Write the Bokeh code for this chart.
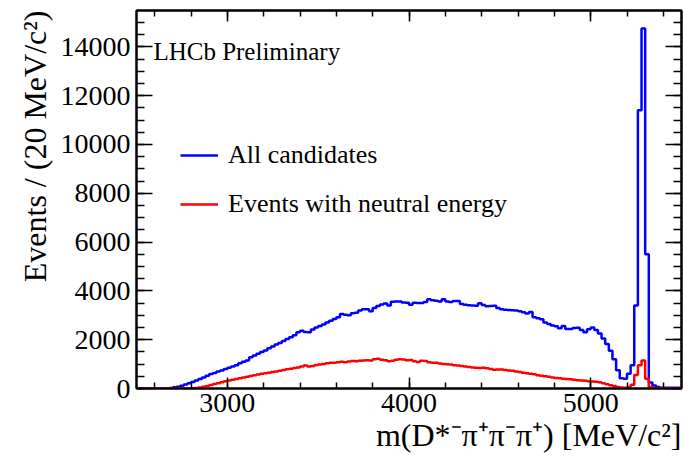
import numpy as np
from bokeh.plotting import figure
from bokeh.models import (Range1d, SingleIntervalTicker, LinearAxis, Legend, LegendItem, Label,
                          CustomJSTickFormatter, Title)
from bokeh.embed import file_html
from bokeh.resources import INLINE

# Histogram binning: 20 MeV bins from 2500 to 5500 MeV
bin_start = 2500
bin_width = 20

# Events per bin, "All candidates" (blue)
all_candidates = [
    0, 0, 0, 0, 0, 0, 0, 0, 0, 20,
    50, 70, 110, 160, 210, 270, 330, 390, 450, 520,
    590, 640, 700, 740, 800, 850, 900, 950, 1030, 1100,
    1150, 1280, 1350, 1420, 1500, 1560, 1650, 1720, 1800, 1860,
    1950, 2030, 2100, 2180, 2300, 2370, 2320, 2300, 2420, 2500,
    2560, 2620, 2700, 2780, 2850, 2920, 3050, 3020, 3000, 3080,
    3100, 3200, 3250, 3250, 3160, 3300, 3380, 3440, 3480, 3400,
    3550, 3560, 3560, 3520, 3510, 3430, 3510, 3500, 3500, 3540,
    3660, 3620, 3600, 3560, 3660, 3560, 3540, 3590, 3580, 3460,
    3430, 3410, 3400, 3390, 3490, 3420, 3370, 3380, 3390, 3300,
    3250, 3230, 3220, 3210, 3200, 3160, 3120, 3070, 3130, 2920,
    2880, 2840, 2700, 2640, 2580, 2550, 2470, 2560, 2440, 2440,
    2480, 2490, 2400, 2300, 2430, 2500, 2400, 2250, 2050, 1820,
    1550, 1200, 750, 420, 400, 600, 950, 3400, 11400, 14750,
    5500, 250, 120, 60, 30, 30, 30, 30, 30, 30,
]

# Events per bin, "Events with neutral energy" (red)
neutral_energy = [
    0, 0, 0, 0, 0, 0, 0, 0, 0, 0,
    0, 0, 0, 0, 0, 10, 20, 40, 70, 100,
    140, 180, 220, 260, 300, 330, 360, 390, 420, 450,
    480, 510, 540, 570, 600, 620, 650, 680, 700, 730,
    760, 790, 810, 840, 860, 900, 940, 900, 920, 960,
    980, 1000, 1030, 1060, 1050, 1080, 1100, 1080, 1110, 1130,
    1120, 1140, 1150, 1160, 1150, 1200, 1220, 1180, 1160, 1120,
    1140, 1180, 1200, 1190, 1160, 1170, 1120, 1090, 1140, 1130,
    1080, 1060, 1050, 1020, 1000, 990, 980, 950, 940, 920,
    900, 880, 860, 850, 840, 850, 830, 800, 770, 780,
    780, 760, 740, 730, 700, 680, 650, 620, 600, 580,
    540, 520, 500, 480, 450, 430, 420, 400, 390, 380,
    360, 340, 330, 320, 300, 290, 280, 260, 220, 170,
    130, 100, 60, 40, 30, 50, 150, 550, 950, 1150,
    400, 60, 20, 10, 10, 10, 10, 10, 10, 10,
]

series_labels = ["All candidates", "Events with neutral energy"]
x_title = "m(D*\u207b\u03c0\u207a\u03c0\u207b\u03c0\u207a) [MeV/c\u00b2]"
y_title = "Events / (20 MeV/c\u00b2)"
stamp = "LHCb Preliminary"

edges = bin_start + bin_width * np.arange(len(all_candidates) + 1)
x_end = float(edges[-1])
y_end = 1.05 * max(all_candidates)

FONT = "Liberation Serif"

p = figure(width=683, height=459, output_backend="svg", toolbar_location=None,
           x_range=Range1d(bin_start, x_end), y_range=Range1d(0, y_end),
           min_border_left=136, min_border_right=2, min_border_top=10, min_border_bottom=71)
p.background_fill_color = "white"
p.border_fill_color = "white"
p.outline_line_color = "black"
p.outline_line_width = 2
p.xgrid.visible = False
p.ygrid.visible = False

xb = list(edges)
blue = p.step(x=xb, y=all_candidates + [all_candidates[-1]], mode="after",
              line_color="#0000ff", line_width=2.5)
red = p.step(x=xb, y=neutral_energy + [neutral_energy[-1]], mode="after",
             line_color="#ff0000", line_width=2.5)

xticker = SingleIntervalTicker(interval=1000, num_minor_ticks=5)
yticker = SingleIntervalTicker(interval=2000, num_minor_ticks=4)

def style_axis(ax, major_in, minor_in, show_labels):
    ax.axis_line_color = "black"
    ax.axis_line_width = 2
    ax.major_tick_in = major_in
    ax.major_tick_out = 0
    ax.minor_tick_in = minor_in
    ax.minor_tick_out = 0
    ax.major_tick_line_color = "black"
    ax.minor_tick_line_color = "black"
    ax.major_tick_line_width = 1.5
    ax.minor_tick_line_width = 1.5
    ax.major_label_text_font = FONT
    ax.major_label_text_color = "black"
    if show_labels:
        ax.major_label_text_font_size = "28px"
    else:
        ax.formatter = CustomJSTickFormatter(code="return ''")
        ax.major_label_text_font_size = "1px"
        ax.major_label_standoff = 0

xa = p.xaxis[0]
xa.ticker = xticker
style_axis(xa, 11, 6, True)
xa.major_label_standoff = 5

ya = p.yaxis[0]
ya.ticker = yticker
style_axis(ya, 16, 8, True)
ya.major_label_standoff = 6

top = LinearAxis(ticker=xticker)
style_axis(top, 11, 6, False)
p.add_layout(top, "above")
right = LinearAxis(ticker=yticker)
style_axis(right, 16, 8, False)
p.add_layout(right, "right")

# Axis titles, right/top aligned as in ROOT
xt = Title(text=x_title, align="right", text_font=FONT, text_font_size="32px",
           text_font_style="normal", text_color="black", standoff=0, offset=0)
p.add_layout(xt, "below")
yt = Title(text=y_title, align="right", text_font=FONT, text_font_size="32px",
           text_font_style="normal", text_color="black", standoff=10, offset=0)
p.add_layout(yt, "left")

legend = Legend(items=[LegendItem(label=series_labels[0], renderers=[blue]),
                       LegendItem(label=series_labels[1], renderers=[red])],
                location=(44, 169))
legend.border_line_color = None
legend.background_fill_alpha = 0
legend.padding = 0
legend.margin = 0
legend.spacing = 19
legend.label_height = 30
legend.glyph_height = 30
legend.glyph_width = 38
legend.label_standoff = 10
legend.label_text_font = FONT
legend.label_text_font_size = "26px"
legend.label_text_color = "black"
p.add_layout(legend)

p.add_layout(Label(x=2593, y=13800, text=stamp, text_font=FONT, text_font_size="25px",
                   text_color="black", text_baseline="alphabetic"))

open("out.html", "w").write(file_html(p, INLINE))
